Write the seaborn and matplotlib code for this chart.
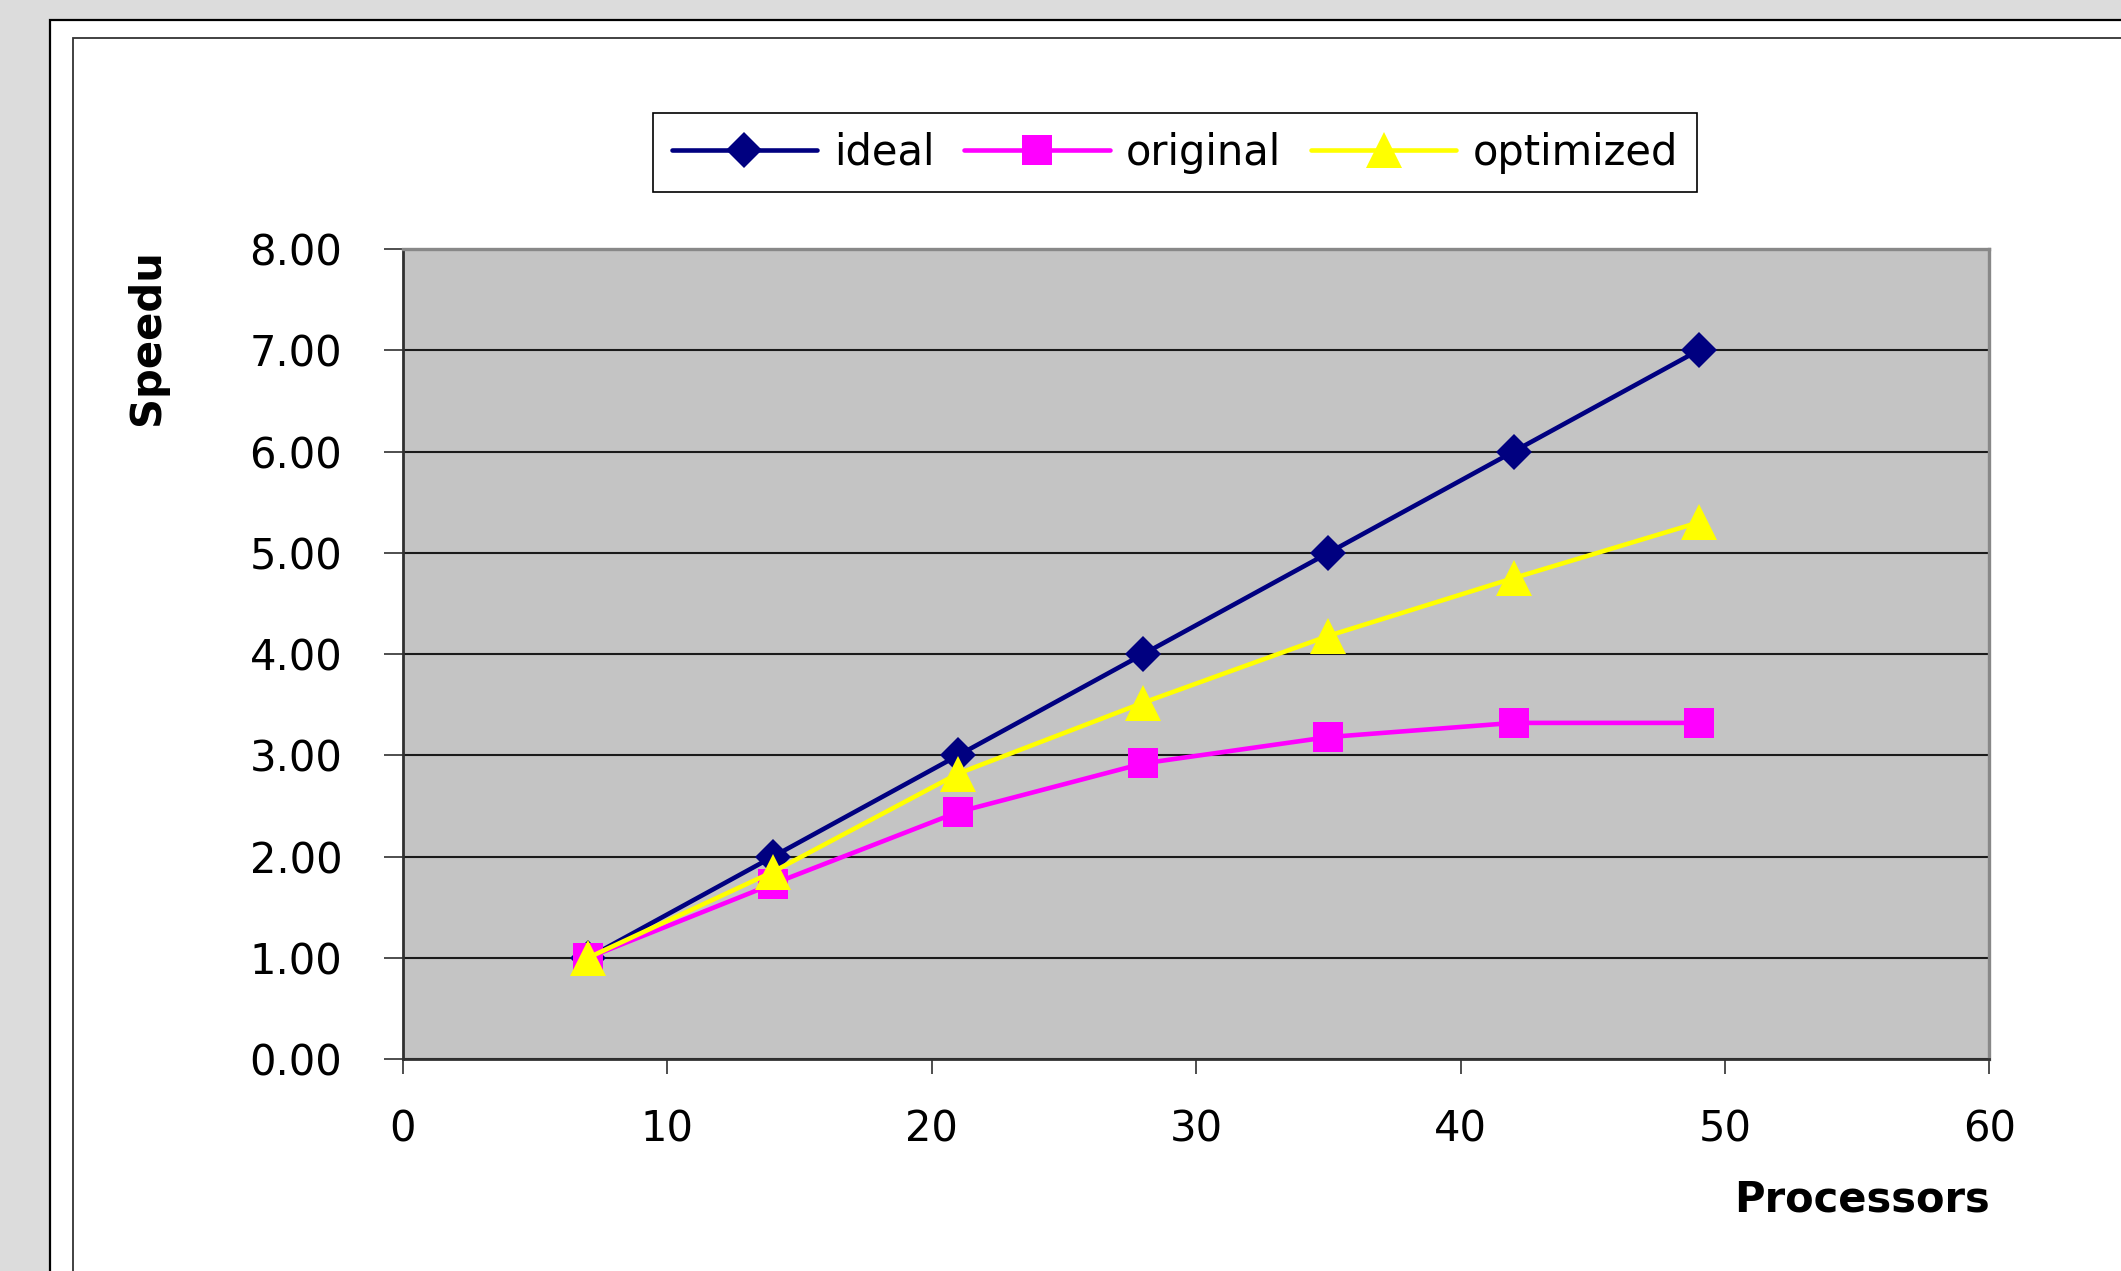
import matplotlib
matplotlib.use('Agg')
import matplotlib.pyplot as plt
from matplotlib.patches import Rectangle
import seaborn as sns
import pandas as pd

# data
processors = [7, 14, 21, 28, 35, 42, 49]
ideal = [1.00, 2.00, 3.00, 4.00, 5.00, 6.00, 7.00]
original = [1.00, 1.73, 2.44, 2.92, 3.18, 3.32, 3.32]
optimized = [1.00, 1.85, 2.82, 3.52, 4.18, 4.75, 5.30]
series_names = ['ideal', 'original', 'optimized']
x_ticks = [0, 10, 20, 30, 40, 50, 60]
y_ticks = [0, 1, 2, 3, 4, 5, 6, 7, 8]

df = pd.DataFrame({
    'Processors': processors * 3,
    'Speedup': ideal + original + optimized,
    'series': [n for n in series_names for _ in processors],
})

sns.set_style('white')
plt.rcParams['font.family'] = ['DejaVu Sans']
plt.rcParams['text.color'] = 'black'
plt.rcParams['axes.labelcolor'] = 'black'
plt.rcParams['xtick.color'] = 'black'
plt.rcParams['ytick.color'] = 'black'

fig = plt.figure(figsize=(21.21, 12.71), dpi=100, facecolor='#DCDCDC')

# excel-like chart frames (run off the right / bottom edge)
fig.patches.append(Rectangle((0.0236, -0.1), 1.1, 0.9843 + 0.1, transform=fig.transFigure,
                             facecolor='white', edgecolor='black', linewidth=1.6, zorder=-2))
fig.patches.append(Rectangle((0.0344, -0.1), 1.1, 0.9701 + 0.1, transform=fig.transFigure,
                             facecolor='none', edgecolor='#333333', linewidth=1.3, zorder=-1))

ax = fig.add_axes([0.190, 0.1668, 0.748, 0.6372])
ax.set_facecolor('#C4C4C4')

styles = {
    'ideal': dict(color='#000080', marker='D', markersize=18),
    'original': dict(color='#FF00FF', marker='s', markersize=22),
    'optimized': dict(color='#FFFF00', marker='^', markersize=26),
}
for name in series_names:
    st = styles[name]
    sns.lineplot(data=df[df['series'] == name], x='Processors', y='Speedup', ax=ax,
                 color=st['color'], marker=st['marker'], markersize=st['markersize'],
                 markeredgewidth=0, linewidth=3.3, label=name, zorder=3)

ax.set_xlim(0, 60)
ax.set_ylim(0, 8)
ax.set_xticks(x_ticks)
ax.set_yticks(y_ticks)
ax.set_yticklabels(['%.2f' % v for v in y_ticks])

ax.yaxis.grid(True, color='#1a1a1a', linewidth=1.5)
ax.xaxis.grid(False)
ax.set_axisbelow(True)

for side in ['top', 'right']:
    ax.spines[side].set_color('#888888')
    ax.spines[side].set_linewidth(2.4)
for side in ['left', 'bottom']:
    ax.spines[side].set_color('#303030')
    ax.spines[side].set_linewidth(2.0)

ax.tick_params(axis='y', direction='out', length=13.7, width=1.2, color='#303030',
               pad=30, labelsize=30, left=True)
ax.tick_params(axis='x', direction='out', length=11, width=1.2, color='#303030',
               pad=25, labelsize=30, bottom=True)

ax.set_xlabel('Processors', fontsize=30, fontweight='bold', loc='right')
ax.xaxis.set_label_coords(1.0, -0.147)
ax.set_ylabel('Speedu', fontsize=30, fontweight='bold', loc='top')
ax.yaxis.set_label_coords(-0.148, 1.0)

leg = ax.legend(loc='center', bbox_to_anchor=(0.554, 0.880), bbox_transform=fig.transFigure,
                ncol=3, fontsize=30, frameon=True, fancybox=False, shadow=False,
                handlelength=3.5, handletextpad=0.4, columnspacing=0.7,
                borderpad=0.45, borderaxespad=0)
leg.get_frame().set_edgecolor('black')
leg.get_frame().set_linewidth(1.2)
leg.get_frame().set_facecolor('white')
leg.get_frame().set_alpha(1)

fig.savefig('out.png', dpi=100, facecolor=fig.get_facecolor())
